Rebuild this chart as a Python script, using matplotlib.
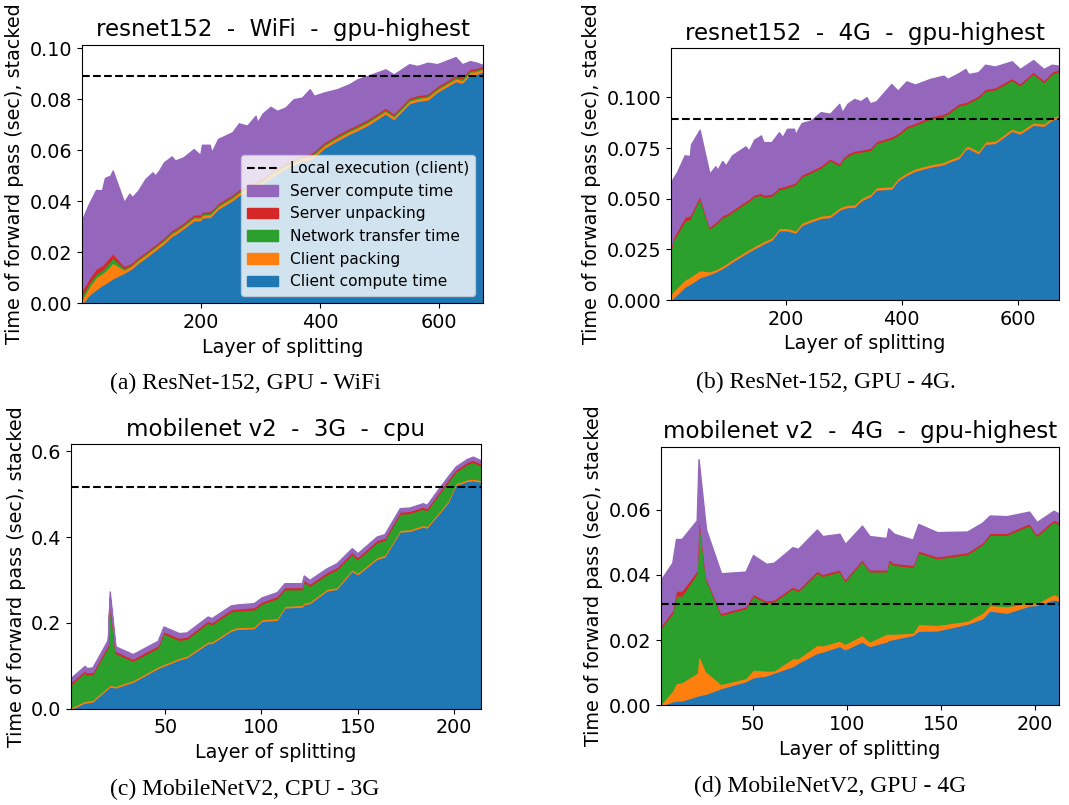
import numpy as np
import matplotlib.pyplot as plt

plt.rcParams['font.size'] = 13.8

# stacked levels:
# client = client compute, packing / unpacking = thin layers,
# upto_server = level of the red edge, total = top of the purple area
a_layers = [1, 12, 24, 34, 39, 48, 52, 71, 80, 85, 95, 107, 119, 123, 130, 138, 151, 157,
            171, 188, 199, 202, 215, 218, 229, 253, 264, 278, 292, 295, 304, 317, 328, 342,
            356, 370, 383, 390, 407, 429, 449, 463, 480, 510, 524, 550, 564, 581, 597, 628,
            639, 652, 662, 674]
a_client = [0.0000, 0.0033, 0.0055, 0.0072, 0.0078, 0.0092, 0.0098, 0.0120, 0.0132, 0.0140,
            0.0160, 0.0180, 0.0202, 0.0208, 0.0222, 0.0236, 0.0265, 0.0272, 0.0295, 0.0326,
            0.0326, 0.0337, 0.0339, 0.0345, 0.0371, 0.0405, 0.0425, 0.0440, 0.0455, 0.0460,
            0.0470, 0.0495, 0.0510, 0.0530, 0.0545, 0.0560, 0.0565, 0.0575, 0.0610, 0.0640,
            0.0665, 0.0680, 0.0700, 0.0745, 0.0723, 0.0785, 0.0794, 0.0800, 0.0830, 0.0872,
            0.0866, 0.0898, 0.0900, 0.0910]
a_packing = [0.0020, 0.0032, 0.0049, 0.0046, 0.0050, 0.0058, 0.0062, 0.0013, 0.0012, 0.0012,
             0.0012, 0.0012, 0.0012, 0.0012, 0.0012, 0.0011, 0.0011, 0.0011, 0.0011, 0.0011,
             0.0011, 0.0011, 0.0011, 0.0011, 0.0011, 0.0011, 0.0011, 0.0011, 0.0011, 0.0011,
             0.0011, 0.0011, 0.0011, 0.0011, 0.0011, 0.0011, 0.0011, 0.0011, 0.0011, 0.0011,
             0.0011, 0.0011, 0.0011, 0.0011, 0.0011, 0.0011, 0.0011, 0.0011, 0.0011, 0.0011,
             0.0011, 0.0011, 0.0011, 0.0011]
a_unpacking = [0.0020, 0.0018, 0.0020, 0.0020, 0.0018, 0.0018, 0.0018, 0.0009, 0.0006, 0.0006,
               0.0006, 0.0006, 0.0006, 0.0006, 0.0006, 0.0006, 0.0006, 0.0006, 0.0006, 0.0006,
               0.0006, 0.0006, 0.0006, 0.0006, 0.0006, 0.0006, 0.0006, 0.0006, 0.0006, 0.0006,
               0.0006, 0.0006, 0.0006, 0.0006, 0.0006, 0.0006, 0.0006, 0.0006, 0.0006, 0.0006,
               0.0006, 0.0006, 0.0006, 0.0006, 0.0006, 0.0006, 0.0006, 0.0006, 0.0006, 0.0006,
               0.0006, 0.0006, 0.0006, 0.0006]
a_upto_server = [0.0055, 0.0098, 0.0137, 0.0150, 0.0163, 0.0186, 0.0198, 0.0148, 0.0155, 0.0163,
                 0.0183, 0.0203, 0.0225, 0.0231, 0.0245, 0.0259, 0.0288, 0.0295, 0.0318, 0.0349,
                 0.0349, 0.0360, 0.0362, 0.0368, 0.0394, 0.0428, 0.0448, 0.0463, 0.0478, 0.0483,
                 0.0493, 0.0518, 0.0533, 0.0553, 0.0568, 0.0583, 0.0588, 0.0598, 0.0633, 0.0663,
                 0.0688, 0.0703, 0.0723, 0.0768, 0.0746, 0.0808, 0.0817, 0.0823, 0.0853, 0.0895,
                 0.0889, 0.0921, 0.0923, 0.0933]
a_total = [0.0330, 0.0390, 0.0445, 0.0443, 0.0492, 0.0501, 0.0521, 0.0397, 0.0430, 0.0417,
           0.0443, 0.0488, 0.0514, 0.0501, 0.0521, 0.0553, 0.0576, 0.0560, 0.0573, 0.0605,
           0.0582, 0.0622, 0.0622, 0.0592, 0.0645, 0.0671, 0.0706, 0.0697, 0.0736, 0.0710,
           0.0745, 0.0771, 0.0755, 0.0768, 0.0801, 0.0807, 0.0840, 0.0814, 0.0827, 0.0840,
           0.0859, 0.0879, 0.0892, 0.0918, 0.0898, 0.0938, 0.0931, 0.0944, 0.0938, 0.0966,
           0.0938, 0.0950, 0.0945, 0.0935]
a_local = 0.0893

b_layers = [1, 5, 12, 25, 34, 36, 51, 68, 78, 82, 90, 96, 107, 130, 136, 145, 157, 161, 175,
            188, 194, 202, 214, 216, 227, 243, 260, 276, 292, 297, 306, 318, 329, 339, 345,
            356, 382, 393, 408, 423, 449, 472, 479, 498, 510, 515, 532, 544, 561, 590, 604,
            627, 645, 659, 672]
b_client = [0.0000, 0.0012, 0.0030, 0.0066, 0.0080, 0.0083, 0.0112, 0.0128, 0.0140, 0.0146,
            0.0158, 0.0168, 0.0190, 0.0230, 0.0240, 0.0255, 0.0272, 0.0279, 0.0297, 0.0344,
            0.0344, 0.0344, 0.0335, 0.0332, 0.0370, 0.0388, 0.0405, 0.0410, 0.0445, 0.0452,
            0.0459, 0.0460, 0.0490, 0.0505, 0.0512, 0.0545, 0.0550, 0.0590, 0.0618, 0.0638,
            0.0658, 0.0670, 0.0680, 0.0700, 0.0745, 0.0750, 0.0725, 0.0771, 0.0775, 0.0835,
            0.0822, 0.0865, 0.0860, 0.0890, 0.0902]
b_packing = [0.0030, 0.0032, 0.0034, 0.0035, 0.0035, 0.0036, 0.0036, 0.0014, 0.0012, 0.0012,
             0.0012, 0.0012, 0.0012, 0.0012, 0.0012, 0.0012, 0.0012, 0.0012, 0.0012, 0.0012,
             0.0012, 0.0012, 0.0012, 0.0012, 0.0012, 0.0012, 0.0012, 0.0012, 0.0012, 0.0012,
             0.0012, 0.0012, 0.0012, 0.0012, 0.0012, 0.0012, 0.0012, 0.0012, 0.0012, 0.0012,
             0.0012, 0.0012, 0.0012, 0.0012, 0.0012, 0.0012, 0.0012, 0.0012, 0.0012, 0.0012,
             0.0012, 0.0012, 0.0012, 0.0012, 0.0012]
b_unpacking = [0.0012, 0.0014, 0.0016, 0.0018, 0.0018, 0.0014, 0.0012, 0.0010, 0.0010, 0.0010,
               0.0010, 0.0010, 0.0010, 0.0010, 0.0010, 0.0010, 0.0010, 0.0010, 0.0010, 0.0010,
               0.0010, 0.0010, 0.0010, 0.0010, 0.0010, 0.0010, 0.0010, 0.0010, 0.0010, 0.0010,
               0.0010, 0.0010, 0.0010, 0.0010, 0.0010, 0.0010, 0.0010, 0.0010, 0.0010, 0.0010,
               0.0010, 0.0010, 0.0010, 0.0010, 0.0010, 0.0010, 0.0010, 0.0010, 0.0010, 0.0010,
               0.0010, 0.0010, 0.0010, 0.0010, 0.0010]
b_upto_server = [0.0260, 0.0310, 0.0344, 0.0410, 0.0418, 0.0430, 0.0517, 0.0364, 0.0385, 0.0395,
                 0.0420, 0.0425, 0.0445, 0.0490, 0.0500, 0.0522, 0.0530, 0.0520, 0.0525, 0.0558,
                 0.0560, 0.0568, 0.0578, 0.0582, 0.0620, 0.0640, 0.0664, 0.0700, 0.0676, 0.0700,
                 0.0722, 0.0738, 0.0742, 0.0748, 0.0751, 0.0785, 0.0807, 0.0825, 0.0860, 0.0875,
                 0.0906, 0.0920, 0.0930, 0.0970, 0.0978, 0.0984, 0.1010, 0.1042, 0.1050, 0.1096,
                 0.1070, 0.1129, 0.1086, 0.1128, 0.1140]
b_total = [0.0570, 0.0600, 0.0632, 0.0714, 0.0710, 0.0768, 0.0840, 0.0623, 0.0660, 0.0643,
           0.0686, 0.0664, 0.0714, 0.0758, 0.0738, 0.0791, 0.0812, 0.0779, 0.0779, 0.0828,
           0.0804, 0.0845, 0.0845, 0.0817, 0.0873, 0.0886, 0.0927, 0.0919, 0.0968, 0.0927,
           0.0968, 0.0992, 0.0981, 0.1001, 0.0971, 0.0981, 0.1066, 0.1033, 0.1079, 0.1063,
           0.1091, 0.1107, 0.1091, 0.1119, 0.1140, 0.1115, 0.1124, 0.1161, 0.1152, 0.1178,
           0.1140, 0.1184, 0.1140, 0.1161, 0.1156]
b_local = 0.0892

c_layers = [1, 8, 9, 12, 20, 21, 24, 33, 46, 49, 57, 61, 72, 74, 84, 87, 96, 100, 108, 112,
            121, 122, 125, 134, 139, 147, 150, 160, 164, 172, 177, 184, 186, 193, 197, 201,
            207, 210, 214]
c_client = [0.0000, 0.0148, 0.0148, 0.0170, 0.0480, 0.0520, 0.0497, 0.0630, 0.0948, 0.1005,
            0.1150, 0.1200, 0.1531, 0.1531, 0.1818, 0.1865, 0.1880, 0.2051, 0.2075, 0.2362,
            0.2385, 0.2440, 0.2463, 0.2760, 0.2797, 0.3217, 0.3139, 0.3497, 0.3551, 0.4134,
            0.4149, 0.4250, 0.4227, 0.4600, 0.4817, 0.5221, 0.5315, 0.5330, 0.5300]
c_packing = [0.0040, 0.0040, 0.0040, 0.0040, 0.0040, 0.0040, 0.0040, 0.0040, 0.0040, 0.0040,
             0.0040, 0.0040, 0.0040, 0.0040, 0.0040, 0.0040, 0.0040, 0.0040, 0.0040, 0.0040,
             0.0040, 0.0040, 0.0040, 0.0040, 0.0040, 0.0040, 0.0040, 0.0040, 0.0040, 0.0040,
             0.0040, 0.0040, 0.0040, 0.0040, 0.0040, 0.0040, 0.0040, 0.0040, 0.0040]
c_unpacking = [0.0050, 0.0050, 0.0050, 0.0050, 0.0050, 0.0050, 0.0050, 0.0050, 0.0050, 0.0050,
               0.0050, 0.0050, 0.0050, 0.0050, 0.0050, 0.0050, 0.0050, 0.0050, 0.0050, 0.0050,
               0.0050, 0.0050, 0.0050, 0.0050, 0.0050, 0.0050, 0.0050, 0.0050, 0.0050, 0.0050,
               0.0050, 0.0050, 0.0050, 0.0050, 0.0050, 0.0050, 0.0050, 0.0050, 0.0050]
c_upto_server = [0.0630, 0.0900, 0.0850, 0.0860, 0.1500, 0.2600, 0.1350, 0.1170, 0.1480, 0.1810,
                 0.1660, 0.1680, 0.2060, 0.2020, 0.2320, 0.2340, 0.2370, 0.2500, 0.2630, 0.2840,
                 0.2840, 0.3020, 0.2920, 0.3190, 0.3300, 0.3660, 0.3545, 0.3935, 0.3990, 0.4600,
                 0.4615, 0.4720, 0.4680, 0.5110, 0.5350, 0.5580, 0.5760, 0.5810, 0.5730]
c_total = [0.0730, 0.1002, 0.0948, 0.0963, 0.1608, 0.2735, 0.1453, 0.1274, 0.1585, 0.1919,
           0.1764, 0.1779, 0.2152, 0.2113, 0.2409, 0.2430, 0.2463, 0.2595, 0.2720, 0.2929,
           0.2929, 0.3108, 0.3007, 0.3279, 0.3390, 0.3745, 0.3629, 0.4017, 0.4072, 0.4678,
           0.4693, 0.4794, 0.4755, 0.5183, 0.5420, 0.5649, 0.5828, 0.5880, 0.5800]
c_local = 0.518

d_layers = [1, 7, 9, 12, 20, 21, 25, 33, 46, 50, 57, 61, 71, 74, 84, 87, 96, 99, 108, 112,
            121, 122, 125, 135, 138, 148, 164, 172, 176, 185, 197, 201, 210, 213]
d_client = [0.0000, 0.0012, 0.0015, 0.0015, 0.0029, 0.0031, 0.0036, 0.0053, 0.0074, 0.0086,
            0.0092, 0.0100, 0.0120, 0.0131, 0.0161, 0.0165, 0.0182, 0.0172, 0.0196, 0.0182,
            0.0196, 0.0200, 0.0204, 0.0216, 0.0229, 0.0230, 0.0250, 0.0267, 0.0291, 0.0284,
            0.0306, 0.0308, 0.0325, 0.0322]
d_packing = [0.0005, 0.0034, 0.0054, 0.0056, 0.0071, 0.0127, 0.0068, 0.0013, 0.0010, 0.0024,
             0.0015, 0.0007, 0.0025, 0.0014, 0.0025, 0.0019, 0.0017, 0.0017, 0.0020, 0.0014,
             0.0024, 0.0020, 0.0016, 0.0007, 0.0021, 0.0017, 0.0010, 0.0017, 0.0017, 0.0020,
             0.0010, 0.0006, 0.0017, 0.0013]
d_unpacking = [0.0006, 0.0008, 0.0015, 0.0015, 0.0008, 0.0008, 0.0006, 0.0006, 0.0006, 0.0006,
               0.0006, 0.0006, 0.0006, 0.0006, 0.0006, 0.0006, 0.0006, 0.0006, 0.0006, 0.0006,
               0.0006, 0.0006, 0.0006, 0.0006, 0.0006, 0.0006, 0.0006, 0.0006, 0.0006, 0.0006,
               0.0006, 0.0006, 0.0006, 0.0006]
d_upto_server = [0.0245, 0.0291, 0.0352, 0.0352, 0.0413, 0.0594, 0.0393, 0.0284, 0.0304, 0.0342,
                 0.0322, 0.0325, 0.0365, 0.0357, 0.0413, 0.0403, 0.0417, 0.0388, 0.0449, 0.0417,
                 0.0417, 0.0449, 0.0437, 0.0431, 0.0475, 0.0457, 0.0470, 0.0500, 0.0529, 0.0529,
                 0.0559, 0.0526, 0.0570, 0.0562]
d_total = [0.0386, 0.0437, 0.0510, 0.0510, 0.0567, 0.0755, 0.0539, 0.0405, 0.0410, 0.0461,
           0.0434, 0.0437, 0.0485, 0.0480, 0.0539, 0.0519, 0.0526, 0.0495, 0.0551, 0.0519,
           0.0513, 0.0543, 0.0526, 0.0508, 0.0556, 0.0531, 0.0533, 0.0560, 0.0582, 0.0580,
           0.0594, 0.0562, 0.0597, 0.0587]
d_local = 0.0311

labels = ['Client compute time', 'Client packing', 'Network transfer time',
          'Server unpacking', 'Server compute time']
colors = ['tab:blue', 'tab:orange', 'tab:green', 'tab:red', 'tab:purple']


def stacked(ax, layers, client, packing, unpacking, upto_server, total, local, title):
    client = np.array(client)
    packing = np.array(packing)
    unpacking = np.array(unpacking)
    upto_server = np.array(upto_server)
    network = upto_server - client - packing - unpacking
    server = np.array(total) - upto_server
    ax.stackplot(layers, client, packing, network, unpacking, server,
                 labels=labels, colors=colors, edgecolor='face', linewidth=1.0)
    ax.axhline(local, color='k', ls='--', lw=1.5, label='Local execution (client)')
    ax.set_xlim(layers[0], layers[-1])
    ax.set_ylim(0, max(total) * 1.05)
    ax.set_title(title, fontsize=16.5)
    ax.set_xlabel('Layer of splitting')
    ax.set_ylabel('Time of forward pass (sec), stacked')


fig = plt.figure(figsize=(10.69, 8.05), dpi=100)
ax_a = fig.add_axes([0.0770, 0.6232, 0.3748, 0.3212])
ax_b = fig.add_axes([0.6274, 0.6273, 0.3635, 0.3130])
ax_c = fig.add_axes([0.0667, 0.1196, 0.3828, 0.3288])
ax_d = fig.add_axes([0.6183, 0.1238, 0.3726, 0.3212])

stacked(ax_a, a_layers, a_client, a_packing, a_unpacking, a_upto_server, a_total, a_local,
        'resnet152  -  WiFi  -  gpu-highest')
stacked(ax_b, b_layers, b_client, b_packing, b_unpacking, b_upto_server, b_total, b_local,
        'resnet152  -  4G  -  gpu-highest')
stacked(ax_c, c_layers, c_client, c_packing, c_unpacking, c_upto_server, c_total, c_local,
        'mobilenet v2  -  3G  -  cpu')
stacked(ax_d, d_layers, d_client, d_packing, d_unpacking, d_upto_server, d_total, d_local,
        'mobilenet v2  -  4G  -  gpu-highest')

# legend only in the first panel, dashed line first then the stack from top to bottom
handles, names = ax_a.get_legend_handles_labels()
order = [5, 4, 3, 2, 1, 0]
ax_a.legend([handles[i] for i in order], [names[i] for i in order],
            loc='lower right', fontsize=11.1)

# sub-figure captions
cap = dict(ha='center', va='center', fontsize=17, family='Liberation Serif')
fig.text(245 / 1069, 1 - 383 / 805, '(a) ResNet-152, GPU - WiFi', **cap)
fig.text(826 / 1069, 1 - 382 / 805, '(b) ResNet-152, GPU - 4G.', **cap)
fig.text(245 / 1069, 1 - 789 / 805, '(c) MobileNetV2, CPU - 3G', **cap)
fig.text(830 / 1069, 1 - 786 / 805, '(d) MobileNetV2, GPU - 4G', **cap)

plt.savefig('out.png', dpi=100)
